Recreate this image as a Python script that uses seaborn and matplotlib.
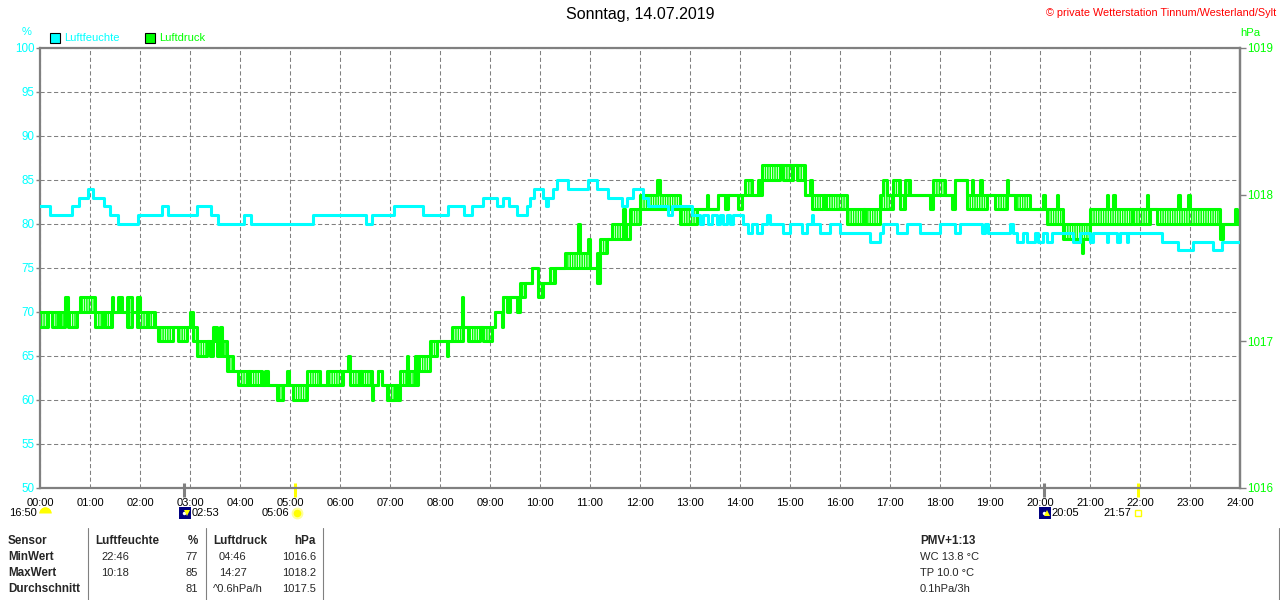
import numpy as np
import pandas as pd
import matplotlib
matplotlib.use("Agg")
import matplotlib.pyplot as plt
import matplotlib.transforms as mtransforms
from matplotlib.lines import Line2D
from matplotlib.patches import Rectangle
import seaborn as sns

sns.set_theme(style="white")
plt.rcParams["font.family"] = ["Liberation Sans", "DejaVu Sans"]

CYAN = "#00FFFF"
GREEN = "#00FF00"
GREY = "#808080"
plt.rcParams["hatch.linewidth"] = 1.1
plt.rcParams["hatch.color"] = GREEN

# Luftfeuchte (%) - change points over the day
hum_times = ["00:00", "00:12", "00:38", "00:47", "00:57", "01:03", "01:17", "01:24", "01:34", "01:58",
             "02:26", "02:33", "03:08", "03:25", "03:34", "04:05", "04:13", "05:28", "06:31", "06:38",
             "07:05", "07:39", "08:10", "08:29", "08:38", "08:52", "09:08", "09:16", "09:23", "09:32",
             "09:44", "09:48", "09:53", "10:03", "10:07", "10:10", "10:15", "10:20", "10:34", "10:58",
             "11:08", "11:22", "11:38", "11:44", "11:52", "12:04", "12:10", "12:34", "12:38", "13:02",
             "13:12", "13:16", "13:22", "13:26", "13:32", "13:36", "13:40", "13:44", "13:48", "13:52",
             "14:04", "14:10", "14:14", "14:20", "14:26", "14:32", "14:36", "14:52", "15:00", "15:14",
             "15:20", "15:26", "15:28", "15:36", "15:48", "16:00", "16:36", "16:48", "16:52", "17:08",
             "17:20", "17:36", "18:00", "18:18", "18:24", "18:50", "18:54", "18:58", "19:24", "19:27",
             "19:32", "19:40", "19:44", "19:54", "19:58", "20:04", "20:08", "20:14", "20:40", "20:48",
             "21:00", "21:04", "21:20", "21:22", "21:32", "21:36", "21:44", "21:46", "22:26", "22:46",
             "23:04", "23:28", "23:38", "24:00"]
hum_values = [82, 81, 82, 83, 84, 83, 82, 81, 80, 81,
              82, 81, 82, 81, 80, 81, 80, 81, 80, 81,
              82, 81, 82, 81, 82, 83, 82, 83, 82, 81,
              82, 83, 84, 83, 82, 83, 84, 85, 84, 85,
              84, 83, 82, 83, 84, 83, 82, 81, 82, 81,
              80, 81, 80, 81, 80, 81, 80, 81, 80, 81,
              80, 79, 80, 79, 80, 81, 80, 79, 80, 79,
              80, 81, 80, 79, 80, 79, 78, 79, 80, 79,
              80, 79, 80, 79, 80, 79, 80, 79, 80, 79,
              78, 79, 78, 79, 78, 79, 78, 79, 78, 79,
              78, 79, 78, 79, 78, 79, 78, 79, 78, 77,
              78, 77, 78, 78]

# Luftdruck (hPa) - segments: start time, lowest and highest reading until next segment
pres_start = ["00:00", "00:10", "00:14", "00:22", "00:24", "00:30", "00:34", "00:44", "00:48", "01:06",
              "01:16", "01:18", "01:26", "01:28", "01:34", "01:38", "01:44", "01:50", "01:56", "02:00",
              "02:08", "02:10", "02:18", "02:22", "02:40", "02:46", "02:56", "03:00", "03:03", "03:08",
              "03:20", "03:24", "03:28", "03:32", "03:36", "03:38", "03:44", "03:52", "03:58", "04:10",
              "04:12", "04:26", "04:30", "04:34", "04:44", "04:52", "04:56", "04:59", "05:04", "05:20",
              "05:36", "05:44", "06:04", "06:10", "06:12", "06:24", "06:26", "06:38", "06:40", "06:46",
              "06:50", "06:56", "07:06", "07:08", "07:12", "07:20", "07:22", "07:30", "07:32", "07:34",
              "07:48", "07:56", "08:08", "08:10", "08:14", "08:26", "08:28", "08:34", "08:48", "08:52",
              "09:02", "09:06", "09:14", "09:16", "09:20", "09:24", "09:32", "09:36", "09:42", "09:50",
              "09:58", "10:04", "10:12", "10:18", "10:30", "10:46", "10:48", "10:58", "11:00", "11:08",
              "11:12", "11:20", "11:26", "11:40", "11:42", "11:48", "12:00", "12:20", "12:24", "12:48",
              "13:08", "13:20", "13:22", "13:34", "13:42", "13:46", "13:58", "14:02", "14:06", "14:14",
              "14:22", "14:26", "14:48", "14:52", "15:04", "15:08", "15:18", "15:24", "15:26", "15:40",
              "15:42", "16:08", "16:28", "16:30", "16:48", "16:52", "16:56", "17:04", "17:12", "17:18",
              "17:24", "17:48", "17:52", "18:06", "18:14", "18:18", "18:32", "18:38", "18:40", "18:48",
              "18:50", "18:56", "19:06", "19:20", "19:22", "19:30", "19:48", "20:04", "20:06", "20:08",
              "20:20", "20:22", "20:28", "20:50", "20:52", "21:00", "21:20", "21:22", "21:28", "21:30",
              "21:50", "21:52", "22:08", "22:10", "22:12", "22:20", "22:46", "22:48", "22:58", "23:00",
              "23:36", "23:40", "23:54", "23:56", "24:00"]
pres_low = [1017.1, 1017.2, 1017.1, 1017.2, 1017.1, 1017.2, 1017.1, 1017.2, 1017.2, 1017.1,
            1017.2, 1017.1, 1017.2, 1017.2, 1017.2, 1017.2, 1017.1, 1017.2, 1017.1, 1017.1,
            1017.2, 1017.1, 1017.1, 1017.0, 1017.1, 1017.0, 1017.1, 1017.1, 1017.0, 1016.9,
            1017.0, 1016.9, 1017.0, 1016.9, 1017.0, 1016.9, 1016.8, 1016.8, 1016.7, 1016.8,
            1016.7, 1016.7, 1016.7, 1016.7, 1016.6, 1016.7, 1016.7, 1016.7, 1016.6, 1016.7,
            1016.7, 1016.7, 1016.8, 1016.8, 1016.7, 1016.8, 1016.7, 1016.6, 1016.7, 1016.8,
            1016.7, 1016.6, 1016.7, 1016.6, 1016.7, 1016.8, 1016.7, 1016.8, 1016.7, 1016.8,
            1016.9, 1017.0, 1016.9, 1017.0, 1017.0, 1017.0, 1017.1, 1017.0, 1017.1, 1017.0,
            1017.1, 1017.2, 1017.1, 1017.3, 1017.2, 1017.3, 1017.2, 1017.3, 1017.4, 1017.5,
            1017.3, 1017.4, 1017.4, 1017.5, 1017.5, 1017.5, 1017.5, 1017.5, 1017.5, 1017.4,
            1017.6, 1017.7, 1017.7, 1017.8, 1017.7, 1017.8, 1017.9, 1017.9, 1017.9, 1017.8,
            1017.9, 1017.9, 1017.9, 1018.0, 1017.9, 1018.0, 1017.9, 1018.0, 1018.0, 1018.0,
            1018.0, 1018.1, 1018.2, 1018.1, 1018.2, 1018.1, 1018.0, 1018.0, 1017.9, 1018.0,
            1017.9, 1017.8, 1017.9, 1017.8, 1017.9, 1017.9, 1017.9, 1018.0, 1017.9, 1018.0,
            1018.0, 1017.9, 1018.0, 1018.0, 1017.9, 1018.1, 1017.9, 1017.9, 1017.9, 1017.9,
            1017.9, 1018.0, 1017.9, 1018.0, 1018.0, 1017.9, 1017.9, 1017.9, 1017.9, 1017.8,
            1017.8, 1017.8, 1017.7, 1017.6, 1017.7, 1017.8, 1017.8, 1017.8, 1017.8, 1017.8,
            1017.9, 1017.8, 1017.8, 1017.8, 1017.9, 1017.8, 1017.8, 1017.8, 1017.8, 1017.8,
            1017.7, 1017.8, 1017.8, 1017.8, 1017.8]
pres_high = [1017.2, 1017.2, 1017.2, 1017.2, 1017.2, 1017.3, 1017.2, 1017.2, 1017.3, 1017.2,
             1017.2, 1017.2, 1017.3, 1017.2, 1017.3, 1017.2, 1017.3, 1017.2, 1017.3, 1017.2,
             1017.2, 1017.2, 1017.1, 1017.1, 1017.1, 1017.1, 1017.1, 1017.2, 1017.1, 1017.0,
             1017.0, 1017.0, 1017.1, 1017.0, 1017.1, 1017.0, 1016.9, 1016.8, 1016.8, 1016.8,
             1016.8, 1016.7, 1016.8, 1016.7, 1016.7, 1016.7, 1016.8, 1016.7, 1016.7, 1016.8,
             1016.7, 1016.8, 1016.8, 1016.9, 1016.8, 1016.8, 1016.8, 1016.7, 1016.7, 1016.8,
             1016.7, 1016.7, 1016.7, 1016.7, 1016.8, 1016.9, 1016.8, 1016.9, 1016.8, 1016.9,
             1017.0, 1017.0, 1017.0, 1017.0, 1017.1, 1017.3, 1017.1, 1017.1, 1017.1, 1017.1,
             1017.1, 1017.2, 1017.2, 1017.3, 1017.3, 1017.3, 1017.3, 1017.4, 1017.4, 1017.5,
             1017.4, 1017.4, 1017.5, 1017.5, 1017.6, 1017.8, 1017.6, 1017.7, 1017.5, 1017.6,
             1017.7, 1017.7, 1017.8, 1017.9, 1017.8, 1017.9, 1018.0, 1018.1, 1018.0, 1017.9,
             1017.9, 1018.0, 1017.9, 1018.0, 1018.0, 1018.0, 1018.0, 1018.0, 1018.1, 1018.0,
             1018.1, 1018.2, 1018.2, 1018.2, 1018.2, 1018.2, 1018.0, 1018.1, 1018.0, 1018.0,
             1018.0, 1017.9, 1017.9, 1017.9, 1018.0, 1018.1, 1018.0, 1018.1, 1018.0, 1018.1,
             1018.0, 1018.0, 1018.1, 1018.0, 1018.0, 1018.1, 1018.0, 1018.1, 1018.0, 1018.1,
             1018.0, 1018.0, 1018.0, 1018.1, 1018.0, 1018.0, 1017.9, 1018.0, 1017.9, 1017.9,
             1018.0, 1017.9, 1017.8, 1017.8, 1017.8, 1017.9, 1018.0, 1017.9, 1018.0, 1017.9,
             1017.9, 1017.9, 1018.0, 1017.9, 1017.9, 1017.9, 1018.0, 1017.9, 1018.0, 1017.9,
             1017.8, 1017.8, 1017.9, 1017.8, 1017.8]

hour_labels = [f"{h:02d}:00" for h in range(25)]
hum_ticks = list(range(50, 101, 5))
pres_ticks = [1016, 1017, 1018, 1019]

# sun / moon events shown under the time axis
event_times = ["00:00", "02:53", "05:06", "20:05", "21:57"]
event_labels = ["16:50", "02:53", "05:06", "20:05", "21:57"]

# summary table
row_names = ["Sensor", "MinWert", "MaxWert", "Durchschnitt"]
hum_col = ["Luftfeuchte", "22:46", "10:18", ""]
hum_unit_col = ["%", "77", "85", "81"]
pres_col = ["Luftdruck", "04:46", "14:27", "^0.6hPa/h"]
pres_unit_col = ["hPa", "1016.6", "1018.2", "1017.5"]
extra_col = ["PMV+1:13", "WC 13.8 °C", "TP 10.0 °C", "0.1hPa/3h"]


def to_hours(t):
    h, m = t.split(":")
    return int(h) + int(m) / 60


W, H = 1280, 600


def fx(px):
    return px / W


def fy(py):
    return 1 - py / H


hum_df = pd.DataFrame({"hour": [to_hours(t) for t in hum_times], "value": hum_values})
pres_df = pd.DataFrame({"hour": [to_hours(t) for t in pres_start], "low": pres_low, "high": pres_high})

fig = plt.figure(figsize=(12.8, 6), dpi=100)
fig.patch.set_facecolor("white")
ax = fig.add_axes([fx(40), fy(488), 1200 / W, 440 / H])
ax2 = ax.twinx()
ax3 = ax.twinx()

# the pressure sensor flickers between two readings: hatch the range it jumps across
ax2.fill_between(pres_df["hour"], pres_df["low"], pres_df["high"], step="post",
                 facecolor="none", edgecolor=GREEN, hatch="|||||||", linewidth=0)
for col in ("low", "high"):
    sns.lineplot(data=pres_df, x="hour", y=col, ax=ax2, color=GREEN, linewidth=2.2,
                 drawstyle="steps-post", estimator=None)
sns.lineplot(data=hum_df, x="hour", y="value", ax=ax3, color=CYAN, linewidth=2.2,
             drawstyle="steps-post", estimator=None)

ax.set_xlim(0, 24)
ax.set_ylim(50, 100)
ax2.set_ylim(1016, 1019)
ax3.set_ylim(50, 100)
ax3.axis("off")

ax.set_xticks(range(25))
ax.set_xticklabels(hour_labels)
ax.set_yticks(hum_ticks)
ax.set_yticklabels([str(v) for v in hum_ticks])
ax2.set_yticks(pres_ticks)
ax2.set_yticklabels([str(v) for v in pres_ticks])
for a in (ax, ax2):
    a.set_xlabel("")
    a.set_ylabel("")

ax.grid(True, color=GREY, linestyle=(0, (4, 2.5)), linewidth=0.75)
ax.tick_params(axis="x", bottom=True, length=0, pad=7, labelsize=8, labelcolor="black")
ax.tick_params(axis="y", left=True, length=3, width=1, color=GREY, pad=1,
               labelsize=8.4, labelcolor=CYAN)
ax2.tick_params(axis="y", right=True, length=4, width=1, color=GREY, pad=1,
                labelsize=8.4, labelcolor=GREEN)

for s in ax.spines.values():
    s.set_color(GREY)
    s.set_linewidth(1.6)
for name, s in ax2.spines.items():
    s.set_visible(name == "right")
    s.set_color(GREY)
    s.set_linewidth(1.6)

# header texts
fig.text(0.5, fy(15), "Sonntag, 14.07.2019", ha="center", va="center", fontsize=11.5, color="black")
fig.text(fx(1276), fy(13), "© private Wetterstation Tinnum/Westerland/Sylt", ha="right", va="center",
         fontsize=7.8, color="red")
fig.text(fx(27), fy(32), "%", ha="center", va="center", fontsize=8, color=CYAN)
fig.text(fx(1250), fy(33), "hPa", ha="center", va="center", fontsize=8.2, color=GREEN)

# legend squares
for x0, col, label in [(50, CYAN, "Luftfeuchte"), (145, GREEN, "Luftdruck")]:
    fig.patches.append(Rectangle((fx(x0), fy(43)), 10 / W, 10 / H, transform=fig.transFigure,
                                 facecolor=col, edgecolor="black", linewidth=0.8))
    fig.text(fx(x0 + 14), fy(38), label, ha="left", va="center", fontsize=8, color=col)

# events below the time axis
ev_trans = mtransforms.blended_transform_factory(ax.transData, fig.transFigure)
tick_trans = mtransforms.blended_transform_factory(ax.transData, ax.transAxes)


def off(dx):
    return mtransforms.offset_copy(ev_trans, fig=fig, x=dx, y=0, units="dots")


ev_hours = [to_hours(t) for t in event_times]
ev_y = fy(513)

# 16:50 (carried over from previous day)
ax.plot([ev_hours[0]], [ev_y], transform=off(4.5), marker="o", fillstyle="top", markersize=9,
        color="#FFFF00", markeredgewidth=0, linestyle="", clip_on=False)
ax.text(ev_hours[0], ev_y, event_labels[0], transform=off(-3), ha="right", va="center",
        fontsize=8, color="black")

# moon set / rise icons
for t, lab, arrow in [(ev_hours[1], event_labels[1], "v"), (ev_hours[3], event_labels[3], "^")]:
    ax.plot([t, t], [0.012, -0.021], transform=tick_trans, color=GREY, linewidth=2.2,
            clip_on=False, solid_capstyle="butt")
    ax.plot([t], [ev_y], transform=off(1.3), marker="s", markersize=8, color="#000080",
            markeredgewidth=0, linestyle="", clip_on=False)
    ax.plot([t], [ev_y], transform=off(-0.5), marker="o", markersize=2.5, color="white",
            markeredgewidth=0, linestyle="", clip_on=False)
    ax.plot([t], [ev_y], transform=off(2.5), marker=arrow, markersize=4, color="#FFFF00",
            markeredgewidth=0, linestyle="", clip_on=False)
    ax.text(t, ev_y, lab, transform=off(7.5), ha="left", va="center", fontsize=8, color="black")

# sunrise / sunset
for t in (ev_hours[2], ev_hours[4]):
    ax.plot([t, t], [0.012, -0.021], transform=tick_trans, color="#FFFF00", linewidth=2.2,
            clip_on=False, solid_capstyle="butt")
ax.plot([ev_hours[2]], [ev_y], transform=off(2), marker="o", markersize=7, markerfacecolor="#FFFF00",
        markeredgecolor="#FFFF99", markeredgewidth=1.5, linestyle="", clip_on=False)
ax.text(ev_hours[2], ev_y, event_labels[2], transform=off(-6), ha="right", va="center",
        fontsize=8, color="black")
ax.plot([ev_hours[4]], [ev_y], transform=off(0), marker="s", markersize=4, markerfacecolor="white",
        markeredgecolor="#FFFF00", markeredgewidth=1, linestyle="", clip_on=False)
ax.text(ev_hours[4], ev_y, event_labels[4], transform=off(-6.5), ha="right", va="center",
        fontsize=8, color="black")

# summary table
row_y = [541.5, 557.5, 573, 589]
for i, y in enumerate(row_y):
    bold = "bold" if i == 0 else "normal"
    size = 8.4 if i == 0 else 8
    fig.text(fx(8), fy(y), row_names[i], ha="left", va="center", fontsize=8.4, fontweight="bold")
    fig.text(fx(95 if i == 0 else 101), fy(y), hum_col[i], ha="left", va="center",
             fontsize=size, fontweight=bold)
    fig.text(fx(198), fy(y), hum_unit_col[i], ha="right", va="center", fontsize=size, fontweight=bold)
    fig.text(fx(213 if i in (0, 3) else 219), fy(y), pres_col[i], ha="left", va="center",
             fontsize=size, fontweight=bold)
    fig.text(fx(316), fy(y), pres_unit_col[i], ha="right", va="center", fontsize=size, fontweight=bold)
    fig.text(fx(920), fy(y), extra_col[i], ha="left", va="center", fontsize=size, fontweight=bold)

for xs in (88, 205.5, 323, 1279):
    fig.lines.append(Line2D([fx(xs), fx(xs)], [fy(528), fy(600)], transform=fig.transFigure,
                            color=GREY, linewidth=0.8))

fig.savefig("out.png", dpi=100)
